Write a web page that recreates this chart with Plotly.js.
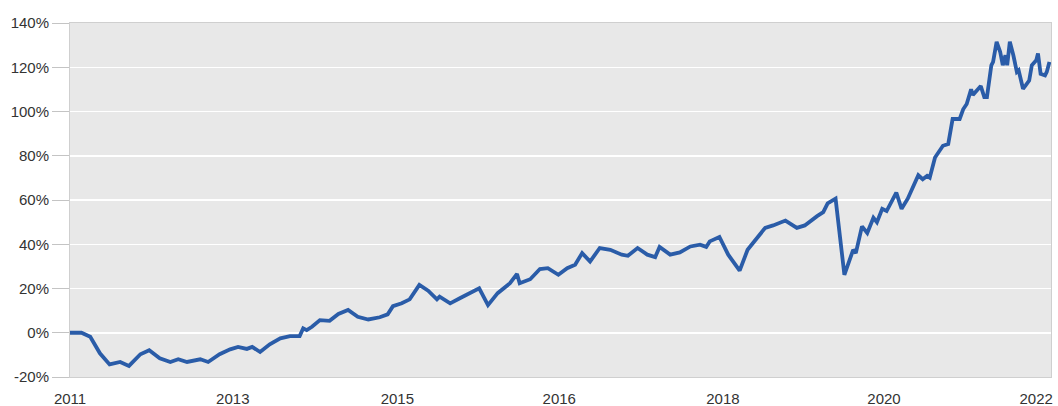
<!DOCTYPE html>
<html>
<head>
<meta charset="utf-8">
<script src="https://cdn.plot.ly/plotly-3.0.1.min.js"></script>
<style>
  html, body { margin: 0; padding: 0; background: #ffffff; }
  #chart { width: 1058px; height: 406px; }
</style>
</head>
<body>
<div id="chart"></div>
<script>
// Time (decimal years) and cumulative return (%)
const years = [
  2011.00, 2011.13, 2011.23, 2011.34, 2011.45, 2011.57, 2011.67, 2011.80, 2011.90, 2012.02,
  2012.14, 2012.23, 2012.33, 2012.48, 2012.57, 2012.70, 2012.82, 2012.91, 2013.01, 2013.07,
  2013.16, 2013.27, 2013.39, 2013.50, 2013.61, 2013.65, 2013.69, 2013.75, 2013.84, 2013.95,
  2014.05, 2014.16, 2014.27, 2014.39, 2014.52, 2014.61, 2014.67, 2014.77, 2014.86, 2014.97,
  2015.07, 2015.17, 2015.20, 2015.32, 2015.43, 2015.55, 2015.65, 2015.75, 2015.86, 2016.00,
  2016.08, 2016.11, 2016.23, 2016.34, 2016.43, 2016.55, 2016.65, 2016.74, 2016.82, 2016.91,
  2017.02, 2017.14, 2017.27, 2017.34, 2017.45, 2017.56, 2017.65, 2017.70, 2017.82, 2017.93,
  2018.05, 2018.16, 2018.23, 2018.27, 2018.38, 2018.48, 2018.61, 2018.70, 2018.90, 2018.99,
  2019.13, 2019.26, 2019.35, 2019.49, 2019.56, 2019.61, 2019.70, 2019.80, 2019.90, 2019.93,
  2020.00, 2020.06, 2020.13, 2020.17, 2020.23, 2020.28, 2020.34, 2020.39, 2020.45, 2020.52,
  2020.64, 2020.69, 2020.74, 2020.77, 2020.83, 2020.92, 2020.98, 2021.03, 2021.11, 2021.15,
  2021.19, 2021.24, 2021.26, 2021.31, 2021.35, 2021.39, 2021.42, 2021.47, 2021.49, 2021.53,
  2021.57, 2021.60, 2021.63, 2021.65, 2021.68, 2021.72, 2021.76, 2021.78, 2021.83, 2021.86,
  2021.90, 2021.93, 2021.98, 2022.00, 2022.03, 2022.08, 2022.10, 2022.13
];
const returns = [
  0.0, 0.0, -1.8, -9.3, -14.3, -13.2, -15.0, -9.7, -7.9, -11.5,
  -13.2, -12.0, -13.2, -12.0, -13.2, -9.7, -7.5, -6.4, -7.3, -6.4,
  -8.7, -5.2, -2.5, -1.5, -1.5, 2.0, 1.2, 2.7, 5.7, 5.4,
  8.5, 10.3, 7.2, 6.0, 7.0, 8.3, 12.0, 13.3, 15.1, 21.6,
  19.0, 15.1, 16.3, 13.3, 15.6, 18.1, 20.1, 12.5, 17.9, 22.4,
  26.6, 22.4, 24.2, 28.8, 29.2, 26.2, 29.2, 30.7, 36.0, 32.2,
  38.3, 37.5, 35.3, 34.8, 38.3, 35.3, 34.2, 38.8, 35.3, 36.3,
  39.0, 39.8, 38.8, 41.3, 43.3, 35.3, 28.1, 37.5, 47.4, 48.5,
  50.7, 47.4, 48.5, 52.7, 54.5, 58.5, 60.6, 26.2, 37.5, 36.0,
  48.1, 45.1, 52.0, 50.0, 56.0, 55.0, 59.5, 63.3, 56.0, 60.6,
  71.2, 69.4, 70.9, 70.1, 79.2, 84.5, 85.3, 96.6, 96.6, 101.0,
  103.4, 110.0, 107.5, 109.5, 111.5, 106.5, 106.5, 120.9, 122.4, 131.5,
  127.0, 120.9, 125.4, 120.9, 131.5, 125.4, 117.9, 118.6, 110.3, 111.8,
  114.0, 120.9, 123.1, 126.2, 117.0, 116.3, 117.9, 122.4
];
// Axis ticks as labelled in the picture
const xTickVals = [2011.00, 2012.85, 2014.72, 2016.56, 2018.42, 2020.25, 2021.98];
const xTickText = ['2011', '2013', '2015', '2016', '2018', '2020', '2022'];
const yTickVals = [-20, 0, 20, 40, 60, 80, 100, 120, 140];
const yTickText = ['-20%', '0%', '20%', '40%', '60%', '80%', '100%', '120%', '140%'];

const trace = {
  x: years,
  y: returns,
  type: 'scatter',
  mode: 'lines',
  line: { color: '#2a5ca8', width: 3.8, shape: 'linear' },
  hoverinfo: 'x+y'
};

const layout = {
  width: 1058,
  height: 406,
  margin: { l: 70, r: 7, t: 23, b: 29, pad: 0 },
  paper_bgcolor: '#ffffff',
  plot_bgcolor: '#e8e8e8',
  showlegend: false,
  font: { family: 'Liberation Sans, Arial, sans-serif', size: 15, color: '#333333' },
  xaxis: {
    range: [2011.0, 2022.148],
    tickmode: 'array',
    tickvals: xTickVals,
    ticktext: xTickText,
    showgrid: false,
    zeroline: false,
    showline: true,
    linecolor: '#cfcfcf',
    linewidth: 1,
    mirror: true,
    ticks: 'outside',
    ticklen: 8,
    tickcolor: 'rgba(0,0,0,0)',
    tickfont: { size: 15, color: '#333333' }
  },
  yaxis: {
    range: [-20, 140],
    tickmode: 'array',
    tickvals: yTickVals,
    ticktext: yTickText,
    showgrid: true,
    gridcolor: '#ffffff',
    gridwidth: 1.5,
    zeroline: false,
    showline: true,
    linecolor: '#cfcfcf',
    linewidth: 1,
    mirror: true,
    ticks: 'outside',
    ticklen: 17,
    tickcolor: '#c4c4c4',
    tickwidth: 1,
    tickfont: { size: 15, color: '#333333' }
  }
};

Plotly.newPlot('chart', [trace], layout, { displayModeBar: false, staticPlot: true });
</script>
</body>
</html>
